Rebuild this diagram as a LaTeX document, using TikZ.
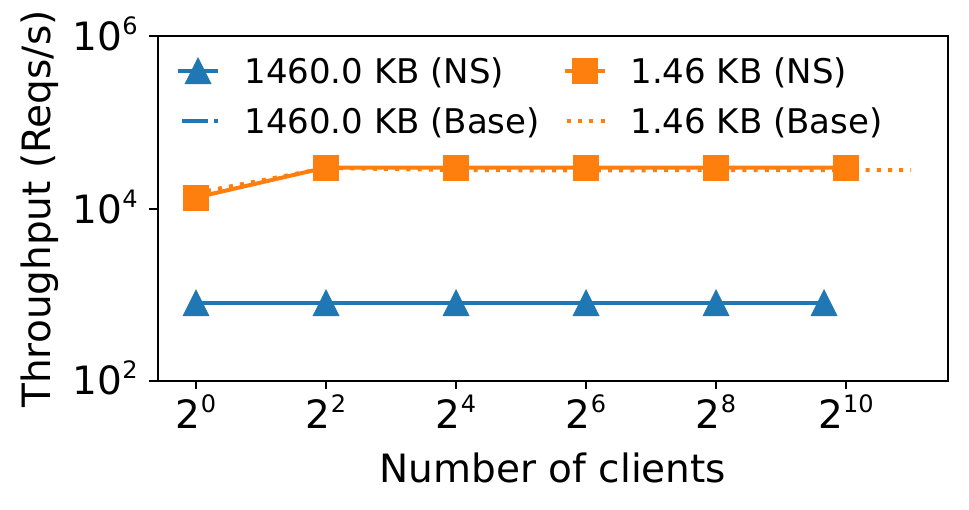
\documentclass[tikz,border=0pt]{standalone}
\usepackage{fontspec}
\setmainfont{DejaVu Sans}
\usetikzlibrary{positioning}
\definecolor{mplblue}{HTML}{1F77B4}
\definecolor{mplorange}{HTML}{FF7F0E}
\newcommand{\tenpow}[2]{#1\raisebox{8pt}{\fontsize{12}{12}\selectfont #2}}
\tikzset{
        axframe/.style={line width=1pt},
        axtick/.style={line width=1pt},
        ticklab/.style={font=\fontsize{19.5}{23}\selectfont, inner sep=0pt},
        axislab/.style={font=\fontsize{19.5}{23}\selectfont, inner sep=0pt},
        leglab/.style={font=\fontsize{17}{20}\selectfont, anchor=base west,
                       inner sep=0pt},
        nsblue/.style={mplblue, line width=2pt},
        nsorange/.style={mplorange, line width=2pt},
        baseblue/.style={mplblue, line width=2pt,
                         dash pattern=on 12.8pt off 3.2pt on 2pt off 3.2pt},
        baseorange/.style={mplorange, line width=2pt,
                           dash pattern=on 2pt off 3.6pt},
        sqmark/.style={rectangle, fill=mplorange, minimum size=13pt,
                       inner sep=0pt},
        trimark/.pic={\fill[mplblue] (0,-13.5) -- (13.5,13.5) -- (-13.5,13.5)
                      -- cycle;},
}

\begin{document}
\begin{tikzpicture}[x=0.5pt, y=-0.5pt]
    \useasboundingbox (0,0) rectangle (969,509);

    % blue: 1460.0 KB
    \draw[baseblue] plot coordinates {(196,302.5) (326,302.5) (456,302.5)
        (586,302.5) (716,302.5) (824,302.5)};
    \draw[nsblue] plot coordinates {(196,302.5) (326,302.5) (456,302.5)
        (586,302.5) (716,302.5) (824,302.5)};
    \foreach \x in {196,326,456,586,716,824}
        \pic at (\x,302.5) {trimark};

    % orange: 1.46 KB
    \draw[baseorange] plot coordinates {(196,193) (326,168) (456,170)
        (586,170.5) (716,170) (846,170) (911,170)};
    \draw[nsorange] plot coordinates {(196,197.5) (326,167.5) (456,167.5)
        (586,167.5) (716,167.5) (846,167.5)};
    \foreach \x/\y [count=\i] in {196/197.5,326/167.5,456/167.5,586/167.5,
                                  716/167.5,846/167.5}
        \node[sqmark] (sq\i) at (\x,\y) {};

    % axes
    \draw[axframe] (157.5,36) rectangle (948,380.5);
    \foreach \e/\x in {0/196,2/326,4/456,6/586,8/716,10/846} {
        \draw[axtick] (\x,380.5) -- (\x,389);
        \node[ticklab, anchor=base] (xt\e) at (\x,428) {\tenpow{2}{\e}};
    }
    \foreach \d/\y in {2/380.5,4/209,6/36} {
        \draw[axtick] (149,\y) -- (157.5,\y);
        \node[ticklab, anchor=base east] (yt\d) at (138,\y+14) {\tenpow{10}{\d}};
    }
    \node[axislab, anchor=base] (xlab) at (553,482) {Number of clients};
    \node[axislab, anchor=base, rotate=90] (ylab) at (50,209)
        {Throughput (Reqs/s)};

    % legend
    \draw[nsblue] (178,70.5) -- (218,70.5);
    \pic at (198,70.5) {trimark};
    \draw[baseblue] (182,120.5) -- (218,120.5);
    \draw[nsorange] (565,70.5) -- (605,70.5);
    \node[sqmark] (legsq) at (585,70.5) {};
    \draw[baseorange] (567,120.5) -- (605,120.5);
    \node[leglab] (leg1) at (244,83) {1460.0 KB (NS)};
    \node[leglab] (leg2) at (244,133) {1460.0 KB (Base)};
    \node[leglab] (leg3) at (630,83) {1.46 KB (NS)};
    \node[leglab] (leg4) at (630,133) {1.46 KB (Base)};
\end{tikzpicture}
\end{document}
